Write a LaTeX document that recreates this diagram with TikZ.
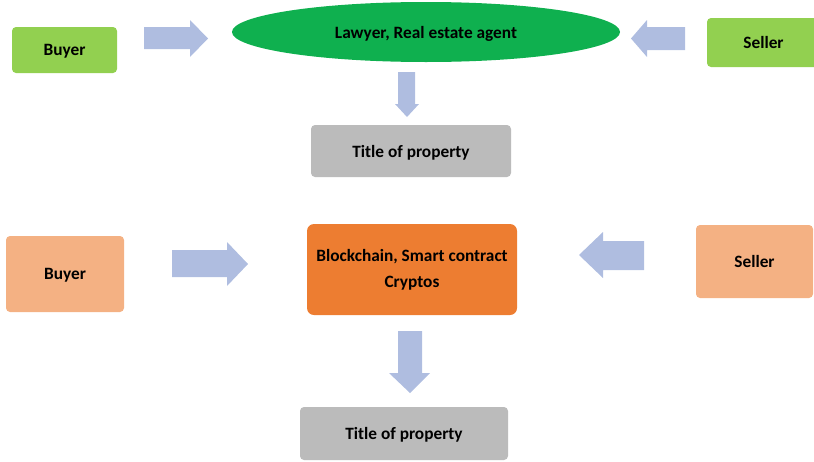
\documentclass[tikz,border=0pt]{standalone}
\usepackage{fontspec}
\setmainfont{Carlito}
\usetikzlibrary{shapes.geometric}
\definecolor{leafgreen}{HTML}{92D050}
\definecolor{deepgreen}{HTML}{0FB04F}
\definecolor{peach}{HTML}{F4B183}
\definecolor{burntorange}{HTML}{ED7D31}
\definecolor{titlegray}{HTML}{BBBBBB}
\definecolor{arrowblue}{HTML}{AFBDE0}
\tikzset{
  label font/.style={font=\fontsize{17.3}{20}\selectfont\bfseries},
  box/.style={rounded corners=4pt, inner sep=0pt, align=center, label font},
  oneline/.style={text depth=0pt},
  blockarrow/.style={fill=arrowblue}
}
\begin{document}
\begin{tikzpicture}[x=1pt,y=-1pt]
\clip (0,0) rectangle (814,461);

% traditional route
\node[box, oneline, fill=leafgreen, minimum width=105pt, minimum height=46pt] (buyerA) at (64.5,50) {Buyer};
\node[ellipse, fill=deepgreen, inner sep=0pt, minimum width=388pt, minimum height=60pt,
      label font, oneline] (agent) at (426,32) {Lawyer, Real estate agent};
\node[box, oneline, fill=leafgreen, minimum width=113pt, minimum height=49pt] (sellerA) at (763.5,42.5) {Seller};
\node[box, oneline, fill=titlegray, minimum width=200pt, minimum height=52pt] (titleA) at (411,151) {Title of property};

\fill[blockarrow] (144,27) -- (190,27) -- (190,20) -- (208,38.5) -- (190,57) -- (190,49) -- (144,49) -- cycle;
\fill[blockarrow] (685,27) -- (647,27) -- (647,20) -- (631,38.5) -- (647,57) -- (647,50) -- (685,50) -- cycle;
\fill[blockarrow] (398,72) -- (415,72) -- (415,104) -- (419,104) -- (407,117) -- (395,104) -- (398,104) -- cycle;

% blockchain route
\node[box, oneline, fill=peach, minimum width=118pt, minimum height=76pt] (buyerB) at (65,274) {Buyer};
\node[box, rounded corners=7pt, fill=burntorange, minimum width=210pt, minimum height=91pt,
      font=\fontsize{17.3}{26}\selectfont\bfseries] (chain) at (412,269.5) {Blockchain, Smart contract\\Cryptos};
\node[box, oneline, fill=peach, minimum width=117pt, minimum height=73pt] (sellerB) at (754.5,261.5) {Seller};
\node[box, oneline, fill=titlegray, minimum width=208pt, minimum height=53pt] (titleB) at (404,433.5) {Title of property};

\fill[blockarrow] (172,250) -- (227,250) -- (227,242) -- (248,264) -- (227,286) -- (227,277) -- (172,277) -- cycle;
\fill[blockarrow] (644,241) -- (603,241) -- (603,232) -- (579,255) -- (603,278) -- (603,270) -- (644,270) -- cycle;
\fill[blockarrow] (398,331) -- (422,331) -- (422,373) -- (430,373) -- (410,393) -- (389,373) -- (398,373) -- cycle;
\end{tikzpicture}
\end{document}
